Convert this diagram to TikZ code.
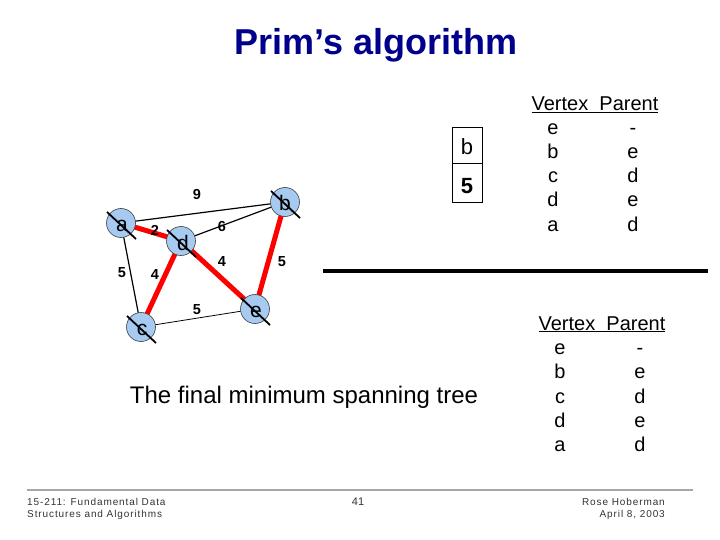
\documentclass[tikz,border=0pt]{standalone}
\usepackage{fontspec}
\setmainfont{Liberation Sans}
\usetikzlibrary{calc,backgrounds}
\begin{document}
\begin{tikzpicture}[x=1pt,y=-1pt,
  vtx/.style={circle,draw=black!75,line width=0.6pt,fill={rgb,255:red,166;green,202;blue,240},minimum size=29pt,inner sep=0pt},
  lett/.style={font=\fontsize{21}{21}\selectfont,inner sep=0pt,anchor=base},
  tree/.style={red,line width=5pt},
  plain/.style={black,line width=1.2pt},
  slash/.style={black,line width=1.8pt},
  elab/.style={font=\bfseries\fontsize{14.5}{14.5}\selectfont},
  tab/.style={font=\fontsize{20}{20}\selectfont,inner sep=0pt,anchor=base},
  foot/.style={font=\fontsize{10}{12}\selectfont\addfontfeature{LetterSpace=9},text=black!80,inner sep=0pt,anchor=base}]
\useasboundingbox (0,0) rectangle (720,540);
% title
\node[font=\bfseries\fontsize{36}{36}\selectfont,text={rgb,255:red,0;green,0;blue,140}] (title) at (376,45) {Prim’s algorithm};
% vertices
\node[vtx] (a) at (121,223) {};
\node[vtx] (b) at (285,202) {};
\node[vtx] (d) at (181,241) {};
\node[vtx] (c) at (141,327) {};
\node[vtx] (e) at (255,309) {};
\node[lett] (ta) at ($(a)+(1,9)$) {a};
\node[lett] (tb) at ($(b)+(0,9)$) {b};
\node[lett] (td) at ($(d)+(2,9)$) {d};
\node[lett] (tc) at ($(c)+(1,8)$) {c};
\node[lett] (te) at ($(e)+(1,8)$) {e};
% edges
\begin{pgfonlayer}{background}
\fill[white] (0,0) rectangle (720,540);
\draw[plain] (a.center) -- (b.center);
\draw[plain] (a.center) -- (c.center);
\draw[plain] (d.center) -- (b.center);
\draw[black,line width=0.8pt] (c.center) -- (e.center);
\draw[tree] (a.center) -- (d.center);
\draw[tree] (d.center) -- (c.center);
\draw[tree] (d.center) -- (e.center);
\draw[tree] (e.center) -- (b.center);
\end{pgfonlayer}
% slashes
\foreach \n in {a,b,c,d,e}{
  \draw[slash] ($(\n)+(-14,-11)$) -- ($(\n)+(15,16)$);
}
% edge labels
\node[elab] (l9) at (197,195) {9};
\node[elab] (l2) at (155,230) {2};
\node[elab] (l6) at (222,227) {6};
\node[elab] (l5a) at (122,273) {5};
\node[elab] (l4a) at (155,275) {4};
\node[elab] (l4b) at (222,262) {4};
\node[elab] (l5b) at (282,262) {5};
\node[elab] (l5c) at (197,310) {5};
% box b/5
\draw[black,line width=0.8pt] (452,127) rectangle (482,202);
\draw[black,line width=1.5pt] (452,163.5) -- (482,163.5);
\node[font=\fontsize{22}{22}\selectfont,anchor=base,inner sep=0pt] (bx) at (467,155) {b};
\node[font=\bfseries\fontsize{22}{22}\selectfont,anchor=base,inner sep=0pt] (bv) at (467,194) {5};
% table 1
\node[tab] (h1) at (595,111) {\underline{Vertex\ \ Parent}};
\foreach \v/\p/\y in {e/-/135, b/e/159, c/d/183, d/e/207, a/d/231}{
  \node[tab] at (553,\y) {\v};
  \node[tab] at (633,\y) {\p};
}
% separator
\draw[black,line width=4pt] (323,271) -- (708,271);
% table 2
\node[tab] (h2) at (602,330) {\underline{Vertex\ \ Parent}};
\foreach \v/\p/\y in {e/-/354, b/e/378, c/d/403, d/e/427, a/d/451}{
  \node[tab] at (560,\y) {\v};
  \node[tab] at (640,\y) {\p};
}
% caption
\node[font=\fontsize{24}{24}\selectfont] (cap) at (304,397) {The final minimum spanning tree};
% footer
\draw[black!35,line width=2.5pt] (27,490) -- (693,490);
\node[foot,anchor=base west] (f1) at (27,505) {15-211: Fundamental Data};
\node[foot,anchor=base west] (f2) at (27,517) {Structures and Algorithms};
\node[font=\fontsize{11}{11}\selectfont,text=black!80] (pg) at (358,502) {41};
\node[foot,anchor=base east] (f3) at (665,505) {Rose Hoberman};
\node[foot,anchor=base east] (f4) at (665,517) {April 8, 2003};
\end{tikzpicture}
\end{document}
